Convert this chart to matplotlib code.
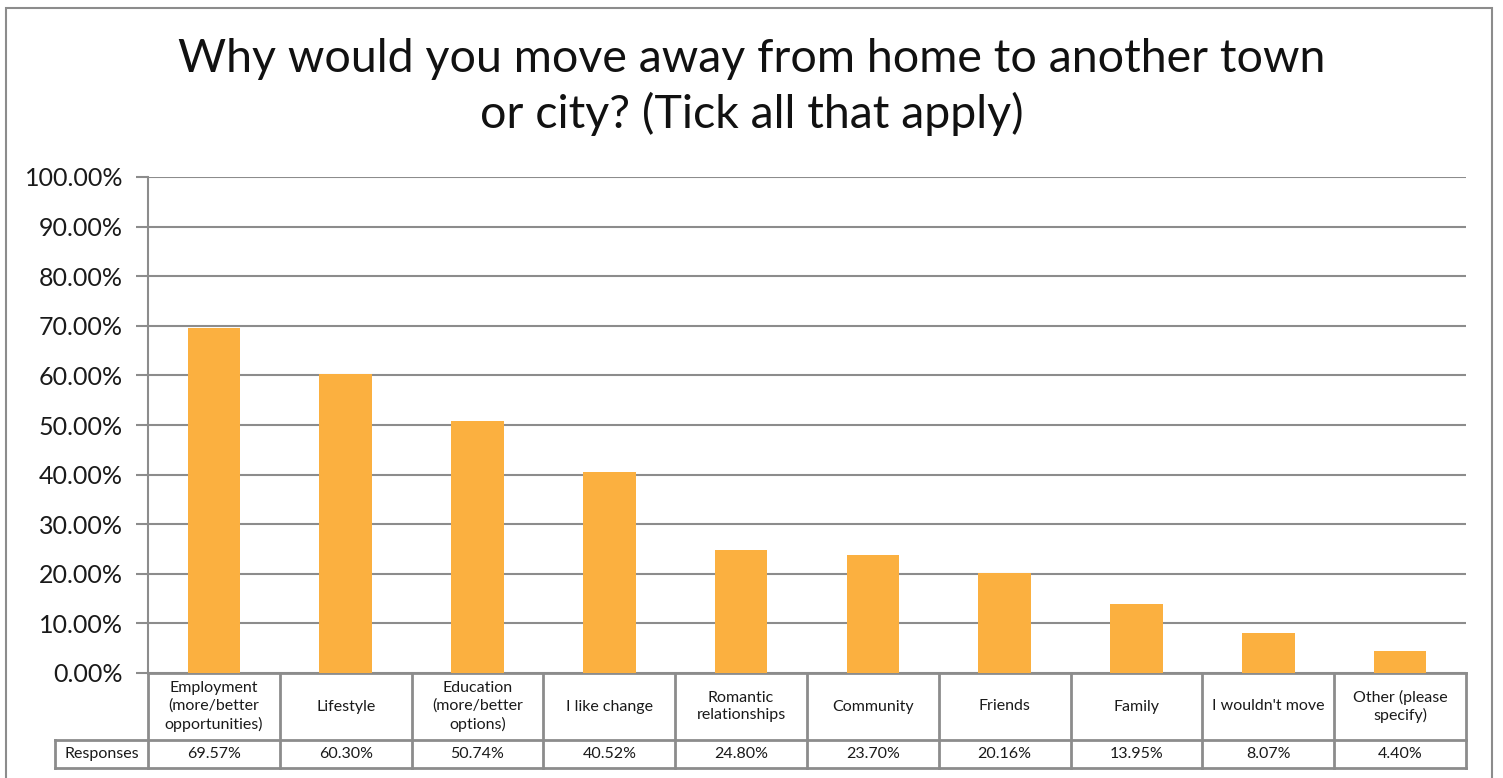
import matplotlib.pyplot as plt
from matplotlib.patches import Rectangle

plt.rcParams['font.family'] = ['Lato', 'DejaVu Sans']

categories = ['Employment\n(more/better\nopportunities)', 'Lifestyle',
              'Education\n(more/better\noptions)', 'I like change',
              'Romantic\nrelationships', 'Community', 'Friends', 'Family',
              "I wouldn't move", 'Other (please\nspecify)']
responses = [69.57, 60.30, 50.74, 40.52, 24.80, 23.70, 20.16, 13.95, 8.07, 4.40]
yticks = [0, 10, 20, 30, 40, 50, 60, 70, 80, 90, 100]

bar_color = '#FBB040'
line_color = '#8c8c8c'
text_color = '#1a1a1a'

fig = plt.figure(figsize=(15.03, 7.78), dpi=100)
ax = fig.add_axes([148 / 1503, 1 - 673 / 778, (1466 - 148) / 1503, (673 - 177) / 778])

x = list(range(len(categories)))
ax.bar(x, responses, width=0.4, color=bar_color, zorder=3)
ax.set_xlim(-0.5, len(categories) - 0.5)
ax.set_ylim(0, 100)
ax.set_yticks(yticks)
ax.set_yticklabels([f'{v:.2f}%' for v in yticks], fontsize=18, color=text_color)
ax.set_xticks([])
ax.grid(axis='y', color=line_color, linewidth=1.5, zorder=0)
ax.tick_params(axis='y', length=9, width=1.5, color=line_color, pad=9)
for s in ['top', 'right', 'bottom']:
    ax.spines[s].set_visible(False)
ax.spines['left'].set_color(line_color)
ax.spines['left'].set_linewidth(1.5)

# data table below the axis
tr = ax.get_xaxis_transform()
y_mid = -67 / 496
y_bot = -95 / 496
x_lab = -0.5 - 93 / 131.8
n = len(categories)
kw = dict(color=line_color, linewidth=2, transform=tr, clip_on=False)
ax.plot([-0.5, n - 0.5], [0, 0], **kw)
ax.plot([x_lab, n - 0.5], [y_mid, y_mid], **kw)
ax.plot([x_lab, n - 0.5], [y_bot, y_bot], **kw)
for i in range(n + 1):
    ax.plot([i - 0.5, i - 0.5], [0, y_bot], **kw)
ax.plot([x_lab, x_lab], [y_mid, y_bot], **kw)

for i, (c, v) in enumerate(zip(categories, responses)):
    ax.text(i, y_mid / 2, c, transform=tr, ha='center', va='center',
            fontsize=11.5, color=text_color, linespacing=1.3)
    ax.text(i, (y_mid + y_bot) / 2, f'{v:.2f}%', transform=tr, ha='center',
            va='center', fontsize=11.5, color=text_color)
ax.text((x_lab - 0.5) / 2, (y_mid + y_bot) / 2, 'Responses', transform=tr,
        ha='center', va='center', fontsize=11.5, color=text_color)

fig.text(0.5, 1 - 87 / 778, 'Why would you move away from home to another town\nor city? (Tick all that apply)',
         ha='center', va='center', fontsize=33.5, color='#111111',
         linespacing=1.35)

fig.patches.append(Rectangle((6 / 1503, -0.01), (1492 - 6) / 1503, 1 - 8 / 778 + 0.01,
                             transform=fig.transFigure, fill=False,
                             edgecolor='#8c8c8c', linewidth=1.5))

fig.savefig('out.png', dpi=100)
